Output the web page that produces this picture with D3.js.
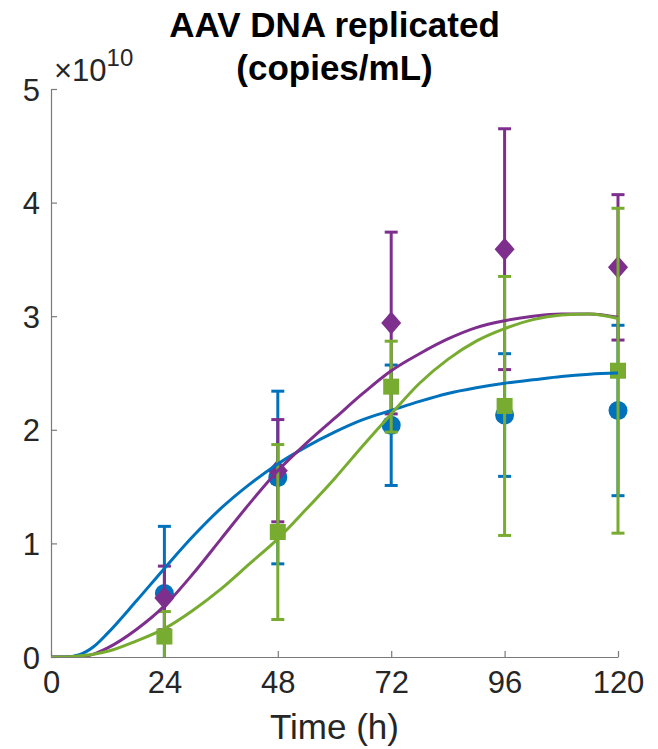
<!DOCTYPE html>
<html>
<head>
<meta charset="utf-8">
<script src="https://cdn.jsdelivr.net/npm/d3@7"></script>
<style>
  body { margin: 0; background: #fff; }
  text { font-family: "Liberation Sans", Arial, Helvetica, sans-serif; }
</style>
</head>
<body>
<script>
// values in units of 1e10 copies/mL
const timePoints = [24, 48, 72, 96, 120];

const blueMean = [0.56, 1.58, 2.04, 2.13, 2.17];
const blueErr = [0.59, 0.76, 0.53, 0.54, 0.75];
const purpleMean = [0.52, 1.64, 2.94, 3.59, 3.43];
const purpleErr = [0.28, 0.45, 0.80, 1.06, 0.64];
const greenMean = [0.18, 1.10, 2.38, 2.21, 2.52];
const greenErr = [0.22, 0.77, 0.40, 1.14, 1.43];

// model fit curves
const fitHours = [0, 3, 6, 9, 12, 18, 24, 30, 36, 42, 48, 54, 60, 66, 72, 78, 84, 90, 96, 102, 108, 114, 120];
const blueFit = [0, 0, 0.02, 0.09, 0.21, 0.49, 0.78, 1.06, 1.31, 1.52, 1.70, 1.85, 1.98, 2.09, 2.17, 2.25, 2.32, 2.37, 2.41, 2.44, 2.47, 2.49, 2.50];
const purpleFit = [0, 0, 0, 0.025, 0.08, 0.24, 0.45, 0.73, 1.04, 1.35, 1.64, 1.88, 2.10, 2.32, 2.52, 2.67, 2.80, 2.90, 2.96, 3.00, 3.02, 3.02, 2.99];
const greenFit = [0, 0, 0.01, 0.025, 0.05, 0.14, 0.25, 0.41, 0.60, 0.82, 1.04, 1.30, 1.57, 1.86, 2.14, 2.41, 2.62, 2.78, 2.89, 2.97, 3.01, 3.02, 2.98];

const xTicks = [0, 24, 48, 72, 96, 120];
const yTicks = [0, 1, 2, 3, 4, 5];

const wSvg = 658;
const hSvg = 749;
const plotLeft = 51, plotRight = 618, plotTop = 89, plotBottom = 657;

const colBlue = "#0072BD";
const colPurple = "#7E2F8E";
const colGreen = "#77AC30";
const textCol = "#262626";

let xScale = d3.scaleLinear([0, 120], [plotLeft, plotRight]);
let yScale = d3.scaleLinear([0, 5], [plotBottom, plotTop]);

let svg = d3.select("body")
  .append("svg")
  .attr("width", wSvg)
  .attr("height", hSvg);

// clip vertically at the axes (bars below zero), markers at the edges stay whole
svg.append("defs").append("clipPath")
  .attr("id", "plotClip")
  .append("rect")
  .attr("x", 0)
  .attr("y", plotTop - 20)
  .attr("width", wSvg)
  .attr("height", plotBottom - plotTop + 20);

// axes (MATLAB style, ticks pointing in)
let xAxis = svg.append("g")
  .attr("transform", `translate(0, ${plotBottom})`)
  .call(d3.axisBottom(xScale).tickValues(xTicks).tickSizeInner(-6).tickSizeOuter(0).tickPadding(14));

let yAxis = svg.append("g")
  .attr("transform", `translate(${plotLeft}, 0)`)
  .call(d3.axisLeft(yScale).tickValues(yTicks).tickFormat(d3.format("d"))
    .tickSizeInner(-6).tickSizeOuter(0).tickPadding(11));

for (let ax of [xAxis, yAxis]) {
  ax.select(".domain").attr("stroke", "#7a7a7a").attr("stroke-width", 1.2);
  ax.selectAll(".tick line").attr("stroke", "#7a7a7a").attr("stroke-width", 1.2);
  ax.selectAll(".tick text")
    .attr("fill", textCol)
    .attr("font-size", "31px")
    .attr("font-family", "'Liberation Sans', Arial, sans-serif");
}
yAxis.selectAll(".tick text").attr("dy", "0.36em");
xAxis.selectAll(".tick text").attr("dy", "0.71em");

// exponent label
let expLabel = svg.append("text")
  .attr("x", 54)
  .attr("y", 81)
  .attr("fill", textCol)
  .attr("font-size", "31px");
expLabel.append("tspan").text("\u00d710");
expLabel.append("tspan")
  .attr("dy", -15)
  .attr("font-size", "24px")
  .text("10");

// title
svg.append("text")
  .attr("x", (plotLeft + plotRight) / 2)
  .attr("y", 37)
  .attr("text-anchor", "middle")
  .attr("font-size", "35px")
  .attr("font-weight", "bold")
  .attr("fill", "#000")
  .text("AAV DNA replicated");

svg.append("text")
  .attr("x", (plotLeft + plotRight) / 2)
  .attr("y", 80)
  .attr("text-anchor", "middle")
  .attr("font-size", "35px")
  .attr("font-weight", "bold")
  .attr("fill", "#000")
  .text("(copies/mL)");

svg.append("text")
  .attr("x", (plotLeft + plotRight) / 2)
  .attr("y", 739)
  .attr("text-anchor", "middle")
  .attr("font-size", "35px")
  .attr("fill", textCol)
  .text("Time (h)");

let plot = svg.append("g").attr("clip-path", "url(#plotClip)");

const series = [
  { mean: blueMean, err: blueErr, fit: blueFit, color: colBlue, marker: "circle" },
  { mean: purpleMean, err: purpleErr, fit: purpleFit, color: colPurple, marker: "diamond" },
  { mean: greenMean, err: greenErr, fit: greenFit, color: colGreen, marker: "square" }
];

const capHalf = 6.5;

for (let s of series) {
  let pts = timePoints.map((t, i) => ({ t: t, m: s.mean[i], e: s.err[i] }));
  let g = plot.append("g");

  g.selectAll(".bar")
    .data(pts)
    .enter()
    .append("line")
    .attr("x1", d => xScale(d.t))
    .attr("x2", d => xScale(d.t))
    .attr("y1", d => yScale(d.m - d.e))
    .attr("y2", d => yScale(d.m + d.e))
    .attr("stroke", s.color)
    .attr("stroke-width", 3);

  for (let sign of [-1, 1]) {
    g.selectAll(".cap" + sign)
      .data(pts)
      .enter()
      .append("line")
      .attr("x1", d => xScale(d.t) - capHalf)
      .attr("x2", d => xScale(d.t) + capHalf)
      .attr("y1", d => yScale(d.m + sign * d.e))
      .attr("y2", d => yScale(d.m + sign * d.e))
      .attr("stroke", s.color)
      .attr("stroke-width", 3);
  }

  if (s.marker === "circle") {
    g.selectAll(".mk")
      .data(pts)
      .enter()
      .append("circle")
      .attr("cx", d => xScale(d.t))
      .attr("cy", d => yScale(d.m))
      .attr("r", 9.5)
      .attr("fill", s.color);
  } else if (s.marker === "square") {
    g.selectAll(".mk")
      .data(pts)
      .enter()
      .append("rect")
      .attr("x", d => xScale(d.t) - 8)
      .attr("y", d => yScale(d.m) - 8)
      .attr("width", 16)
      .attr("height", 16)
      .attr("fill", s.color);
  } else {
    g.selectAll(".mk")
      .data(pts)
      .enter()
      .append("path")
      .attr("d", d => {
        let cx = xScale(d.t), cy = yScale(d.m);
        return `M${cx},${cy - 11.5}L${cx + 10},${cy}L${cx},${cy + 11.5}L${cx - 10},${cy}Z`;
      })
      .attr("fill", s.color);
  }
}

let line = d3.line()
  .x(d => xScale(d[0]))
  .y(d => yScale(d[1]))
  .curve(d3.curveMonotoneX);

for (let s of series) {
  plot.append("path")
    .datum(fitHours.map((h, i) => [h, s.fit[i]]))
    .attr("d", line)
    .attr("fill", "none")
    .attr("stroke", s.color)
    .attr("stroke-width", 3);
}
</script>
</body>
</html>
